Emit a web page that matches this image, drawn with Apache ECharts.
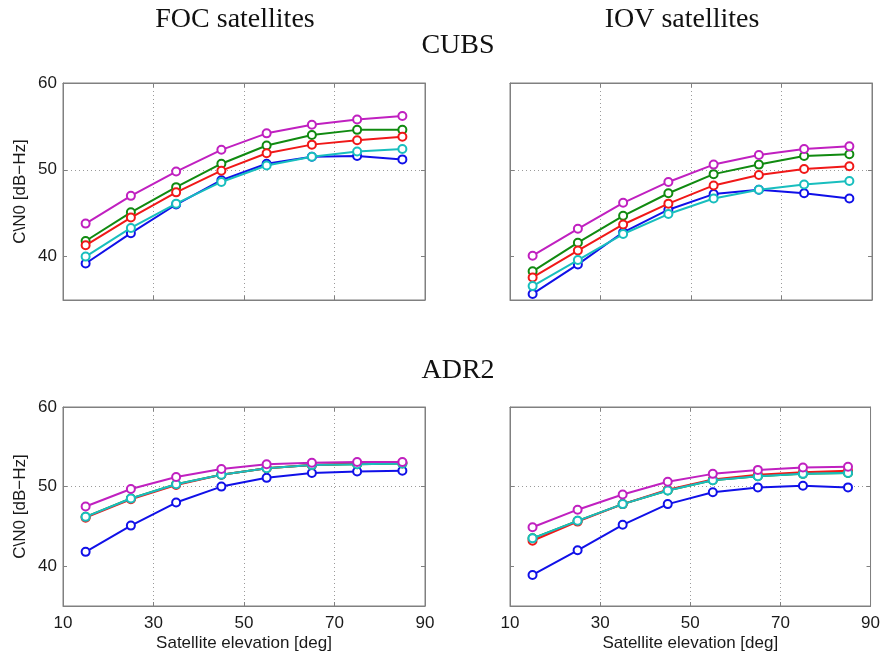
<!DOCTYPE html>
<html>
<head>
<meta charset="utf-8">
<title>C/N0 vs satellite elevation</title>
<script src="https://cdn.jsdelivr.net/npm/echarts@6/dist/echarts.min.js"></script>
<style>
  html, body { margin: 0; padding: 0; background: #fff; }
  #chart { width: 883px; height: 655px; }
</style>
</head>
<body>
<div id="chart"></div>
<script>
// Elevation bins (deg)
var elevation = [15, 25, 35, 45, 55, 65, 75, 85];

// FOC satellites, CUBS receiver
var focCubsBlue    = [39.2, 42.7, 46.0, 48.8, 50.7, 51.5, 51.6, 51.2];
var focCubsGreen   = [41.8, 45.1, 48.0, 50.7, 52.8, 54.0, 54.6, 54.6];
var focCubsRed     = [41.3, 44.5, 47.4, 49.9, 51.9, 52.9, 53.4, 53.8];
var focCubsCyan    = [40.0, 43.3, 46.1, 48.6, 50.5, 51.5, 52.1, 52.4];
var focCubsMagenta = [43.8, 47.0, 49.8, 52.3, 54.2, 55.2, 55.8, 56.2];

// IOV satellites, CUBS receiver
var iovCubsBlue    = [35.7, 39.1, 42.8, 45.4, 47.2, 47.7, 47.3, 46.7];
var iovCubsGreen   = [38.3, 41.6, 44.7, 47.3, 49.5, 50.6, 51.6, 51.8];
var iovCubsRed     = [37.6, 40.7, 43.7, 46.1, 48.2, 49.4, 50.1, 50.4];
var iovCubsCyan    = [36.6, 39.6, 42.6, 44.9, 46.7, 47.7, 48.3, 48.7];
var iovCubsMagenta = [40.1, 43.2, 46.2, 48.6, 50.6, 51.7, 52.4, 52.7];

// FOC satellites, ADR2 receiver
var focAdrBlue    = [41.8, 45.1, 48.0, 50.0, 51.1, 51.7, 51.9, 52.0];
var focAdrGreen   = [46.2, 48.5, 50.3, 51.5, 52.3, 52.7, 52.8, 52.9];
var focAdrRed     = [46.1, 48.4, 50.2, 51.5, 52.3, 52.7, 52.9, 53.0];
var focAdrCyan    = [46.2, 48.5, 50.3, 51.5, 52.3, 52.7, 52.8, 52.9];
var focAdrMagenta = [47.5, 49.7, 51.2, 52.2, 52.8, 53.0, 53.1, 53.1];

// IOV satellites, ADR2 receiver
var iovAdrBlue    = [38.9, 42.0, 45.2, 47.8, 49.3, 49.9, 50.1, 49.9];
var iovAdrGreen   = [43.5, 45.7, 47.8, 49.5, 50.8, 51.3, 51.6, 51.7];
var iovAdrRed     = [43.2, 45.6, 47.8, 49.6, 50.9, 51.5, 51.8, 52.0];
var iovAdrCyan    = [43.5, 45.7, 47.8, 49.5, 50.8, 51.3, 51.6, 51.7];
var iovAdrMagenta = [44.9, 47.1, 49.0, 50.6, 51.6, 52.1, 52.4, 52.5];

// Axis ticks
var xTicks = [10, 30, 50, 70, 90];
var yTicks = [40, 50, 60];

var lineColors = ['#1010e8', '#108a10', '#f01818', '#18bebe', '#c020c0'];

var panels = [
  { left: 63,  top: 83,  height: 217, data: [focCubsBlue, focCubsGreen, focCubsRed, focCubsCyan, focCubsMagenta], xLabels: false, yLabels: true },
  { left: 510, top: 83,  height: 217, data: [iovCubsBlue, iovCubsGreen, iovCubsRed, iovCubsCyan, iovCubsMagenta], xLabels: false, yLabels: false },
  { left: 63,  top: 407, height: 199, data: [focAdrBlue, focAdrGreen, focAdrRed, focAdrCyan, focAdrMagenta], xLabels: true, yLabels: true },
  { left: 510, top: 407, height: 199, data: [iovAdrBlue, iovAdrGreen, iovAdrRed, iovAdrCyan, iovAdrMagenta], xLabels: true, yLabels: false }
];

var tickFont = { fontFamily: 'Liberation Sans, Arial, sans-serif', fontSize: 17, color: '#1a1a1a' };
var gridLine = { show: true, lineStyle: { color: '#9a9a9a', width: 1, type: [1, 3] } };
var frameColor = '#808080';

var grids = [], xAxes = [], yAxes = [], series = [];

panels.forEach(function (p, gi) {
  grids.push({
    left: p.left, top: p.top, width: 362, height: p.height,
    show: true, borderColor: frameColor, borderWidth: 1, backgroundColor: '#fff'
  });
  // bottom x axis
  xAxes.push({
    gridIndex: gi, type: 'value', position: 'bottom', min: 10, max: 90, interval: 20,
    axisLine: { show: true, lineStyle: { color: frameColor } },
    axisTick: { show: true, inside: true, length: 4, lineStyle: { color: frameColor } },
    axisLabel: Object.assign({ show: p.xLabels, margin: 9 }, tickFont),
    splitLine: Object.assign({ showMinLine: false, showMaxLine: false }, gridLine),
    name: p.xLabels ? 'Satellite elevation [deg]' : '',
    nameLocation: 'middle', nameGap: 29,
    nameTextStyle: tickFont
  });
  // top x axis (mirrored ticks only)
  xAxes.push({
    gridIndex: gi, type: 'value', position: 'top', min: 10, max: 90, interval: 20,
    axisLine: { show: true, lineStyle: { color: frameColor } },
    axisTick: { show: true, inside: true, length: 4, lineStyle: { color: frameColor } },
    axisLabel: { show: false }, splitLine: { show: false }
  });
  // left y axis
  yAxes.push({
    gridIndex: gi, type: 'value', position: 'left', min: 35, max: 60,
    axisLine: { show: true, lineStyle: { color: frameColor } },
    axisTick: { show: true, inside: true, length: 4, customValues: yTicks, lineStyle: { color: frameColor } },
    axisLabel: Object.assign({ show: p.yLabels, margin: 6, customValues: yTicks }, tickFont),
    splitLine: Object.assign({ showMinLine: false, showMaxLine: false }, gridLine),
    name: p.yLabels ? 'C\\N0 [dB\u2212Hz]' : '',
    nameLocation: 'middle', nameGap: 34, nameRotate: 90,
    nameTextStyle: tickFont
  });
  // right y axis (mirrored ticks only)
  yAxes.push({
    gridIndex: gi, type: 'value', position: 'right', min: 35, max: 60,
    axisLine: { show: true, lineStyle: { color: frameColor } },
    axisTick: { show: true, inside: true, length: 4, customValues: yTicks, lineStyle: { color: frameColor } },
    axisLabel: { show: false }, splitLine: { show: false }
  });

  p.data.forEach(function (vals, si) {
    series.push({
      type: 'line',
      xAxisIndex: gi * 2, yAxisIndex: gi * 2,
      data: elevation.map(function (e, k) { return [e, vals[k]]; }),
      symbol: 'emptyCircle', symbolSize: 8,
      lineStyle: { color: lineColors[si], width: 2 },
      itemStyle: { color: lineColors[si], borderColor: lineColors[si], borderWidth: 1.6 },
      z: 3 + si,
      animation: false, silent: true
    });
  });
});

var titleFont = '28px "Liberation Serif", "Times New Roman", serif';
function heading(text, x, y) {
  return { type: 'text', x: x, y: y, style: { text: text, font: titleFont, fill: '#111', textAlign: 'center', textVerticalAlign: 'middle' } };
}

var chart = echarts.init(document.getElementById('chart'), null, { renderer: 'canvas' });
chart.setOption({
  animation: false,
  backgroundColor: '#fff',
  grid: grids,
  xAxis: xAxes,
  yAxis: yAxes,
  series: series,
  graphic: [
    heading('FOC satellites', 235, 20),
    heading('IOV satellites', 682, 20),
    heading('CUBS', 458, 46),
    heading('ADR2', 458, 371)
  ]
});
</script>
</body>
</html>
